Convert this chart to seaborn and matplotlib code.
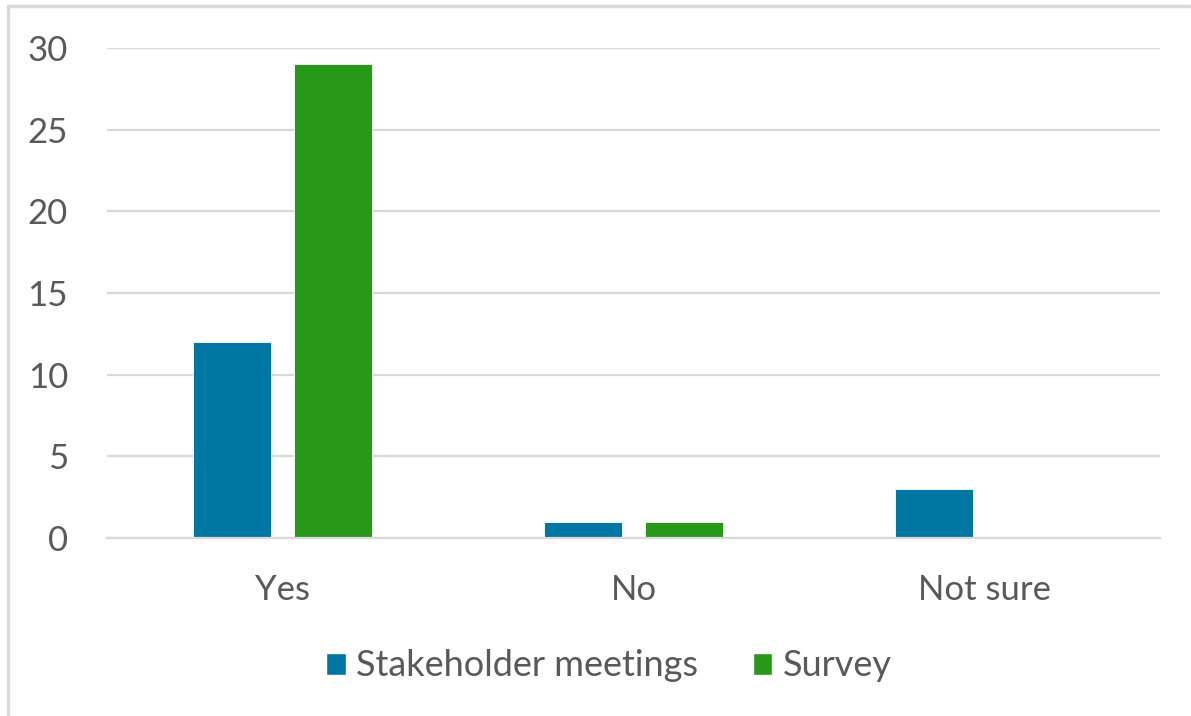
import matplotlib
matplotlib.use("Agg")
import matplotlib.pyplot as plt
from matplotlib.lines import Line2D
from matplotlib.patches import Patch
import seaborn as sns
import pandas as pd

categories = ["Yes", "No", "Not sure"]
stakeholder_meetings = [12, 1, 3]
survey = [29, 1, 0]
series_names = ["Stakeholder meetings", "Survey"]
y_ticks = [0, 5, 10, 15, 20, 25, 30]

colors = {"Stakeholder meetings": "#0077A3", "Survey": "#289819"}
text_color = "#595959"
grid_color = "#D9D9D9"

df = pd.DataFrame({
    "category": categories * 2,
    "series": [series_names[0]] * 3 + [series_names[1]] * 3,
    "value": stakeholder_meetings + survey,
})

sns.set_theme(style="white")
plt.rcParams["font.family"] = ["Lato", "DejaVu Sans"]

fig = plt.figure(figsize=(11.91, 7.16), dpi=100)
ax = fig.add_axes([107 / 1191, 1 - 538 / 716, (1160 - 107) / 1191, (538 - 48) / 716])

sns.barplot(data=df, x="category", y="value", hue="series", order=categories,
            hue_order=series_names, palette=colors, saturation=1, width=0.57, gap=0.22,
            edgecolor="white", linewidth=0.6, legend=False, ax=ax)

ax.set_ylim(0, 30)
ax.set_xlim(-0.5, 2.5)
ax.set_yticks(y_ticks)
ax.set_yticklabels([str(t) for t in y_ticks])
ax.yaxis.grid(True, color=grid_color, linewidth=1.6)
ax.set_axisbelow(True)
for s in ["top", "right", "left"]:
    ax.spines[s].set_visible(False)
ax.spines["bottom"].set_color(grid_color)
ax.spines["bottom"].set_linewidth(1.6)
ax.set_xlabel("")
ax.set_ylabel("")
ax.tick_params(axis="both", length=0, labelsize=25, labelcolor=text_color)
ax.tick_params(axis="y", pad=28)
ax.tick_params(axis="x", pad=26)

handles = [Patch(facecolor=colors[n], edgecolor="white", label=n) for n in series_names]
fig.legend(handles=handles, loc="center", bbox_to_anchor=(609 / 1191, 1 - 666 / 716),
           ncol=2, frameon=False, fontsize=26, labelcolor=text_color,
           handlelength=0.55, handleheight=0.55, handletextpad=0.3, columnspacing=1.5)

# Outer frame of the chart area
fig.add_artist(Line2D([8 / 1191, 1190 / 1191], [1 - 6 / 716] * 2, color=grid_color,
                      linewidth=2.5, transform=fig.transFigure))
fig.add_artist(Line2D([8 / 1191] * 2, [0, 1 - 6 / 716], color=grid_color,
                      linewidth=2.5, transform=fig.transFigure))

fig.savefig("out.png", dpi=100, facecolor="white")
